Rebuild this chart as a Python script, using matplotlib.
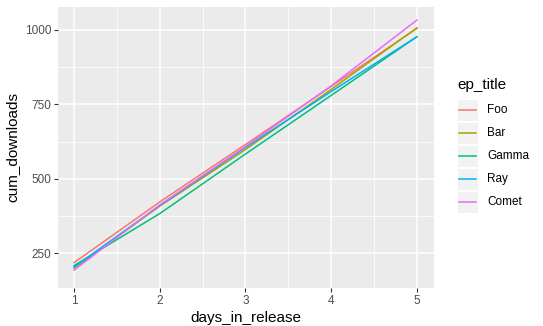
import numpy as np
import matplotlib
matplotlib.use("Agg")
import matplotlib.pyplot as plt
from matplotlib.patches import Rectangle
from matplotlib.lines import Line2D

plt.rcParams['font.family'] = ['Liberation Sans', 'DejaVu Sans']

days = [1, 2, 3, 4, 5]
titles = ['Foo', 'Bar', 'Gamma', 'Ray', 'Comet']
foo = [218, 422, 615, 810, 1005]
bar = [200, 408, 598, 800, 1007]
gamma = [208, 383, 583, 780, 977]
ray = [203, 410, 605, 793, 977]
comet = [193, 412, 608, 812, 1033]
colors = ['#F8766D', '#A3A500', '#00BF7D', '#00B0F6', '#E76BF3']

W, H = 543, 326
fig = plt.figure(figsize=(W / 100, H / 100), dpi=100)

def fx(x):
    return x / W

def fy(y):
    return 1 - y / H

# panel box in pixels
left, right, top, bottom = 58, 434, 7, 288
ax = fig.add_axes([fx(left), fy(bottom), fx(right - left), (bottom - top) / H])
ax.set_facecolor('#EBEBEB')
for s in ax.spines.values():
    s.set_visible(False)

ax.set_xlim(0.813, 5.2)
ax.set_ylim(133, 1077)
ax.set_xticks(days)
ax.set_yticks([250, 500, 750, 1000])
ax.set_xticks([1.5, 2.5, 3.5, 4.5], minor=True)
ax.set_yticks([375, 625, 875], minor=True)
ax.grid(which='major', color='white', linewidth=1.1)
ax.grid(which='minor', color='white', linewidth=0.55)
ax.set_axisbelow(True)
ax.tick_params(which='major', length=3, width=0.8, color='#333333',
               labelsize=8.5, labelcolor='#4D4D4D', pad=2)
ax.tick_params(which='minor', length=0)

series = [foo, bar, gamma, ray, comet]
for name, vals, c in zip(titles, series, colors):
    ax.plot(days, vals, color=c, linewidth=1.1, label=name)

ax.set_xlabel('days_in_release', fontsize=11, labelpad=3)
ax.set_ylabel('cum_downloads', fontsize=11, labelpad=4)

# legend drawn by hand, ggplot style
fig.text(fx(457), fy(85), 'ep_title', fontsize=11, va='center', ha='left')
key_y = [110, 133, 156, 179, 202]
for name, c, ky in zip(titles, colors, key_y):
    fig.patches.append(Rectangle((fx(457), fy(ky + 11)), 21 / W, 22 / H,
                                 transform=fig.transFigure, facecolor='#F2F2F2',
                                 edgecolor='white', linewidth=0.8))
    fig.lines.append(Line2D([fx(459), fx(476)], [fy(ky), fy(ky)],
                            transform=fig.transFigure, color=c, linewidth=1.1))
    fig.text(fx(487), fy(ky), name, fontsize=8.5, va='center', ha='left')

fig.savefig('out.png', dpi=100)
